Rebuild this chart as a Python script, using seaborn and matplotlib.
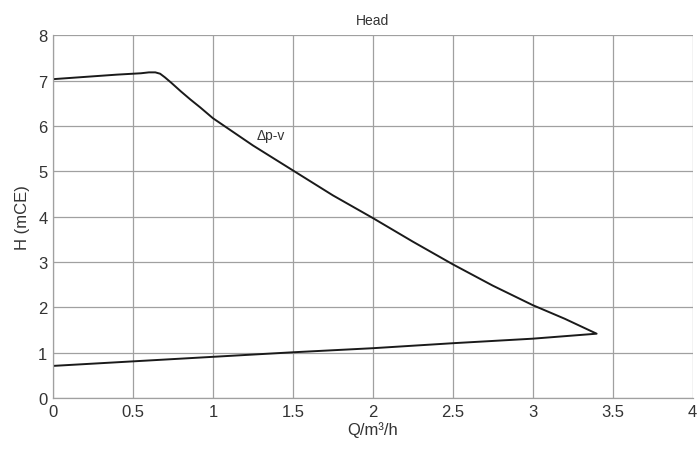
import matplotlib
matplotlib.use("Agg")
import matplotlib.pyplot as plt
import seaborn as sns
import pandas as pd

# Δp-v control curve (flow in m³/h, head in mCE): upper branch out, lower branch back
flow = [0.0, 0.2, 0.4, 0.55, 0.60, 0.64, 0.67, 0.70, 0.74, 0.80, 0.86, 0.92, 1.0,
        1.25, 1.5, 1.75, 2.0, 2.25, 2.5, 2.75, 3.0, 3.2, 3.4,
        3.0, 2.5, 2.0, 1.5, 1.0, 0.5, 0.0]
head = [7.03, 7.08, 7.13, 7.16, 7.18, 7.18, 7.15, 7.07, 6.95, 6.76, 6.58, 6.41, 6.17,
        5.57, 5.02, 4.47, 3.97, 3.45, 2.95, 2.48, 2.05, 1.75, 1.42,
        1.31, 1.21, 1.10, 1.01, 0.91, 0.81, 0.71]

x_ticks = [0, 0.5, 1, 1.5, 2, 2.5, 3, 3.5, 4]
x_tick_labels = ["0", "0.5", "1", "1.5", "2", "2.5", "3", "3.5", "4"]
y_ticks = [0, 1, 2, 3, 4, 5, 6, 7, 8]

curve = pd.DataFrame({"Q": flow, "H": head})

sns.set_theme(style="whitegrid")
plt.rcParams["font.family"] = ["Liberation Sans", "DejaVu Sans"]

fig = plt.figure(figsize=(6.99, 4.52), dpi=100)
ax = fig.add_axes([0.0758, 0.117, 0.915, 0.803])

sns.lineplot(data=curve, x="Q", y="H", sort=False, estimator=None,
             color="#1a1a1a", linewidth=1.4, ax=ax)

ax.set_xlim(0, 4)
ax.set_ylim(0, 8)
ax.set_xticks(x_ticks)
ax.set_xticklabels(x_tick_labels)
ax.set_yticks(y_ticks)
ax.grid(True, color="#a0a0a0", linewidth=0.9)
ax.set_facecolor("white")
for side in ["top", "right"]:
    ax.spines[side].set_visible(False)
for side in ["left", "bottom"]:
    ax.spines[side].set_color("#a0a0a0")
    ax.spines[side].set_linewidth(0.9)

ax.tick_params(axis="both", labelsize=12, colors="#333333", length=0, pad=4)
ax.set_xlabel("Q/m³/h", fontsize=12, color="#333333", labelpad=2)
ax.set_ylabel("H (mCE)", fontsize=12, color="#333333", labelpad=6)
ax.set_title("Head", fontsize=10, color="#333333", pad=8)

ax.text(1.36, 5.8, "Δp-v", fontsize=10, color="#333333", ha="center", va="center")

fig.savefig("out.png", dpi=100)
